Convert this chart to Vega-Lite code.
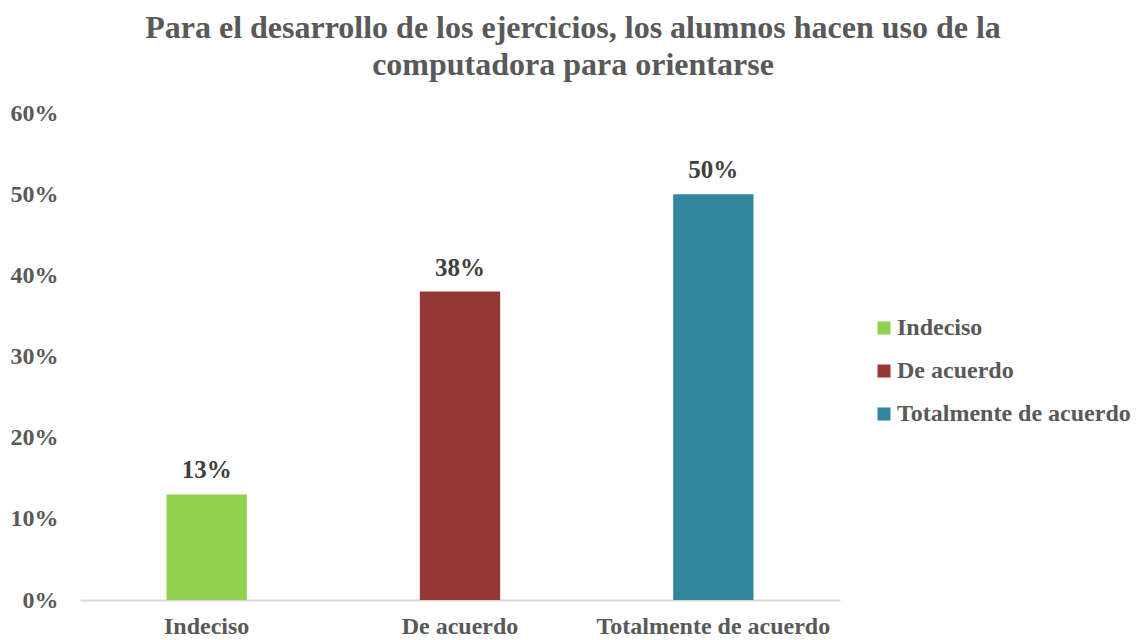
{
  "$schema": "https://vega.github.io/schema/vega-lite/v6.json",
  "autosize": {"type": "none"},
  "padding": {"left": 80, "top": 113, "right": 296, "bottom": 40},
  "width": 760,
  "height": 487,
  "background": "white",
  "title": {
    "text": ["Para el desarrollo de los ejercicios, los alumnos hacen uso de la", "computadora para orientarse"],
    "font": "Times New Roman",
    "fontSize": 32,
    "fontWeight": "bold",
    "color": "#595959",
    "anchor": "middle",
    "dx": 113,
    "lineHeight": 37,
    "offset": 19
  },
  "data": {
    "values": [
      {"categoria": "Indeciso", "valor": 0.13},
      {"categoria": "De acuerdo", "valor": 0.38},
      {"categoria": "Totalmente de acuerdo", "valor": 0.5}
    ]
  },
  "config": {
    "view": {"stroke": null},
    "font": "Times New Roman"
  },
  "encoding": {
    "x": {
      "field": "categoria",
      "type": "nominal",
      "sort": ["Indeciso", "De acuerdo", "Totalmente de acuerdo"],
      "scale": {"paddingInner": 0.683, "paddingOuter": 0.3415},
      "axis": {
        "title": null,
        "labelAngle": 0,
        "labelFont": "Times New Roman",
        "labelFontSize": 24,
        "labelFontWeight": "bold",
        "labelColor": "#595959",
        "labelPadding": 14,
        "labelLimit": 400,
        "ticks": false,
        "domainColor": "#d9d9d9",
        "domainWidth": 2
      }
    },
    "y": {
      "field": "valor",
      "type": "quantitative",
      "scale": {"domain": [0, 0.6]},
      "axis": {
        "title": null,
        "format": ".0%",
        "values": [0, 0.1, 0.2, 0.3, 0.4, 0.5, 0.6],
        "grid": false,
        "domain": false,
        "ticks": false,
        "labelFont": "Times New Roman",
        "labelFontSize": 24,
        "labelFontWeight": "bold",
        "labelColor": "#595959",
        "labelPadding": 22
      }
    }
  },
  "layer": [
    {
      "mark": {"type": "bar"},
      "encoding": {
        "color": {
          "field": "categoria",
          "type": "nominal",
          "sort": ["Indeciso", "De acuerdo", "Totalmente de acuerdo"],
          "scale": {
            "domain": ["Indeciso", "De acuerdo", "Totalmente de acuerdo"],
            "range": ["#92D050", "#953735", "#31859C"]
          },
          "legend": {
            "title": null,
            "orient": "none",
            "legendX": 792,
            "legendY": 203,
            "symbolType": "square",
            "symbolSize": 170,
            "symbolStrokeWidth": 0,
            "labelFont": "Times New Roman",
            "labelFontSize": 24,
            "labelFontWeight": "bold",
            "labelColor": "#595959",
            "labelOffset": 1,
            "rowPadding": 19,
            "labelLimit": 400
          }
        }
      }
    },
    {
      "mark": {
        "type": "text",
        "dy": -24,
        "font": "Times New Roman",
        "fontSize": 25,
        "fontWeight": "bold",
        "color": "#404040"
      },
      "encoding": {
        "text": {"field": "valor", "type": "quantitative", "format": ".0%"}
      }
    }
  ]
}
